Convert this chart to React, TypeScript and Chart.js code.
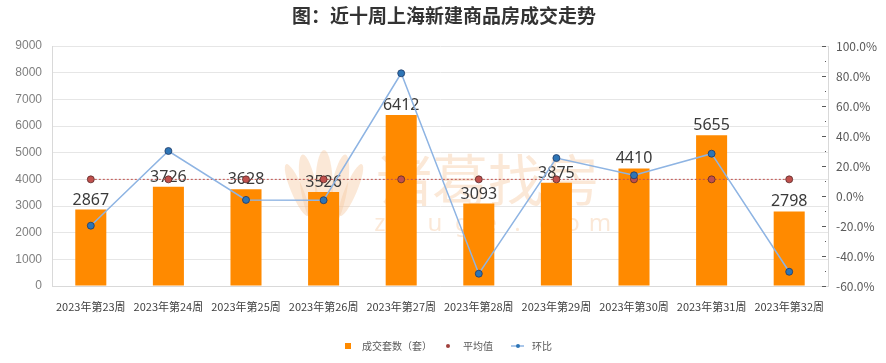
import React, { useEffect, useRef } from "react";
import { Chart, registerables } from "chart.js";

Chart.register(...registerables);

const titleText = "图：近十周上海新建商品房成交走势";
const weekLabels = [
  "2023年第23周",
  "2023年第24周",
  "2023年第25周",
  "2023年第26周",
  "2023年第27周",
  "2023年第28周",
  "2023年第29周",
  "2023年第30周",
  "2023年第31周",
  "2023年第32周",
];
const dealCounts = [2867, 3726, 3628, 3526, 6412, 3093, 3875, 4410, 5655, 2798];
const averageValues = [3999, 3999, 3999, 3999, 3999, 3999, 3999, 3999, 3999, 3999];
const ratioValues = [-19.8, 30.0, -2.6, -2.8, 81.8, -51.8, 25.3, 13.8, 28.2, -50.5];
const seriesNames = ["成交套数（套）", "平均值", "环比"];
const watermarkCn = "诸葛找房";
const watermarkEn = "zhuge.com";

const W = 886;
const H = 363;
const CJK = '"Noto Sans CJK SC", "Noto Sans", sans-serif';

const decorPlugin = {
  id: "decor",
  beforeDraw(chart: any) {
    const ctx = chart.ctx;
    ctx.save();
    ctx.fillStyle = "#ffffff";
    ctx.fillRect(0, 0, chart.width, chart.height);
    ctx.restore();
  },
  beforeDatasetsDraw(chart: any) {
    const ctx = chart.ctx;
    const a = chart.chartArea;
    ctx.save();
    ctx.beginPath();
    ctx.rect(a.left, a.top, a.right - a.left, a.bottom - a.top);
    ctx.clip();
    const col = "rgba(246, 200, 160, 0.42)";
    ctx.fillStyle = col;
    const cx = 324;
    const cy = 190;
    const petals = [
      { dx: 0, rx: 9, ry: 40, rot: 0 },
      { dx: -15, rx: 8, ry: 36, rot: -0.18 },
      { dx: 15, rx: 8, ry: 36, rot: 0.18 },
      { dx: -27, rx: 6, ry: 28, rot: -0.4 },
      { dx: 27, rx: 6, ry: 28, rot: 0.4 },
    ];
    for (const p of petals) {
      ctx.beginPath();
      ctx.ellipse(cx + p.dx, cy, p.rx, p.ry, p.rot, 0, Math.PI * 2);
      ctx.fill();
    }
    ctx.font = `56px ${CJK}`;
    ctx.textAlign = "left";
    ctx.textBaseline = "middle";
    ctx.fillText(watermarkCn, 376, 180);
    ctx.font = `24px "Noto Sans", sans-serif`;
    ctx.textAlign = "center";
    watermarkEn.split("").forEach((c, i) => {
      ctx.fillText(c, 380 + i * 27.5, 224);
    });
    ctx.restore();
  },
  afterDatasetDraw(chart: any, args: any) {
    if (args.index !== 0) return;
    const ctx = chart.ctx;
    const meta = chart.getDatasetMeta(0);
    ctx.save();
    ctx.font = `16px "Noto Sans", sans-serif`;
    ctx.fillStyle = "#3a3a3a";
    ctx.textAlign = "center";
    ctx.textBaseline = "alphabetic";
    meta.data.forEach((el: any, i: number) => {
      ctx.fillText(String(dealCounts[i]), el.x, el.y - 5);
    });
    ctx.restore();
  },
  afterDraw(chart: any) {
    const ctx = chart.ctx;
    ctx.save();
    ctx.font = `bold 19px ${CJK}`;
    ctx.fillStyle = "#333333";
    ctx.textAlign = "center";
    ctx.textBaseline = "middle";
    ctx.fillText(titleText, 444, 16);

    const s = chart.scales.y1;
    const rx = chart.chartArea.right;
    ctx.strokeStyle = "#595959";
    ctx.lineWidth = 1;
    for (let v = -60; v <= 100; v += 10) {
      const y = Math.round(s.getPixelForValue(v)) + 0.5;
      const major = v % 20 === 0;
      ctx.beginPath();
      ctx.moveTo(rx - (major ? 6 : 3), y);
      ctx.lineTo(rx - 2, y);
      ctx.stroke();
    }

    const ly = 346;
    ctx.font = `10px ${CJK}`;
    ctx.textAlign = "left";
    ctx.textBaseline = "middle";
    ctx.fillStyle = "#ff8a00";
    ctx.fillRect(345, ly - 3, 6, 6);
    ctx.fillStyle = "#595959";
    ctx.fillText(seriesNames[0], 362, ly);

    ctx.beginPath();
    ctx.arc(448, ly, 2, 0, Math.PI * 2);
    ctx.fillStyle = "#a0403d";
    ctx.fill();
    ctx.fillStyle = "#595959";
    ctx.fillText(seriesNames[1], 463, ly);

    ctx.strokeStyle = "#8eb4e3";
    ctx.lineWidth = 1.5;
    ctx.beginPath();
    ctx.moveTo(511, ly);
    ctx.lineTo(524, ly);
    ctx.stroke();
    ctx.beginPath();
    ctx.arc(518, ly, 2, 0, Math.PI * 2);
    ctx.fillStyle = "#2e75b6";
    ctx.fill();
    ctx.fillStyle = "#595959";
    ctx.fillText(seriesNames[2], 532, ly);
    ctx.restore();
  },
};

export default function App() {
  const ref = useRef<HTMLCanvasElement>(null);
  useEffect(() => {
    if (!ref.current) return;
    const chart = new Chart(ref.current, {
      type: "bar",
      data: {
        labels: weekLabels,
        datasets: [
          {
            type: "bar",
            label: seriesNames[0],
            data: dealCounts,
            yAxisID: "y",
            backgroundColor: "#ff8a00",
            borderWidth: 0,
            barPercentage: 0.4,
            categoryPercentage: 1,
            order: 3,
          } as any,
          {
            type: "line",
            label: seriesNames[1],
            data: averageValues,
            yAxisID: "y",
            borderColor: "#c0504d",
            borderWidth: 1,
            borderDash: [2, 2],
            pointRadius: 3.5,
            pointBackgroundColor: "#c0504d",
            pointBorderColor: "#5a2a28",
            pointBorderWidth: 0.8,
            tension: 0,
            order: 2,
          } as any,
          {
            type: "line",
            label: seriesNames[2],
            data: ratioValues,
            yAxisID: "y1",
            borderColor: "#8eb4e3",
            borderWidth: 1.5,
            pointRadius: 3.5,
            pointBackgroundColor: "#2e75b6",
            pointBorderColor: "#1f3864",
            pointBorderWidth: 0.8,
            tension: 0,
            order: 1,
          } as any,
        ],
      },
      options: {
        responsive: false,
        animation: false,
        devicePixelRatio: 1,
        layout: { padding: { top: 46, left: 0, right: 0, bottom: 0 } },
        plugins: {
          legend: { display: false },
          title: { display: false },
          tooltip: { enabled: false },
        },
        scales: {
          x: {
            type: "category",
            offset: true,
            grid: { display: false },
            border: { display: true, color: "#d9d9d9" },
            ticks: {
              autoSkip: false,
              maxRotation: 0,
              padding: 6,
              color: "#404040",
              font: { size: 11, family: CJK },
            },
            afterFit(s: any) {
              s.height = 77;
            },
          },
          y: {
            type: "linear",
            position: "left",
            min: 0,
            max: 9000,
            ticks: {
              stepSize: 1000,
              padding: 10,
              color: "#7f7f7f",
              font: { size: 12, family: '"Liberation Sans", Arial, sans-serif' },
              callback: (v: any) => String(v),
            },
            grid: { color: "#e6e6e6", drawTicks: false },
            border: { display: true, color: "#d9d9d9" },
            afterFit(s: any) {
              s.width = 52;
            },
          },
          y1: {
            type: "linear",
            position: "right",
            min: -60,
            max: 100,
            ticks: {
              stepSize: 20,
              padding: 8,
              color: "#595959",
              font: { size: 12, family: CJK },
              callback: (v: any) => Number(v).toFixed(1) + "%",
            },
            grid: { display: false, drawTicks: false },
            border: { display: true, color: "#d9d9d9" },
            afterFit(s: any) {
              s.width = 58;
            },
          },
        },
      } as any,
      plugins: [decorPlugin],
    });
    return () => chart.destroy();
  }, []);
  return (
    <div style={{ position: "fixed", left: 0, top: 0, width: W, height: H, background: "#fff" }}>
      <canvas ref={ref} width={W} height={H} style={{ display: "block", width: W, height: H }} />
    </div>
  );
}
